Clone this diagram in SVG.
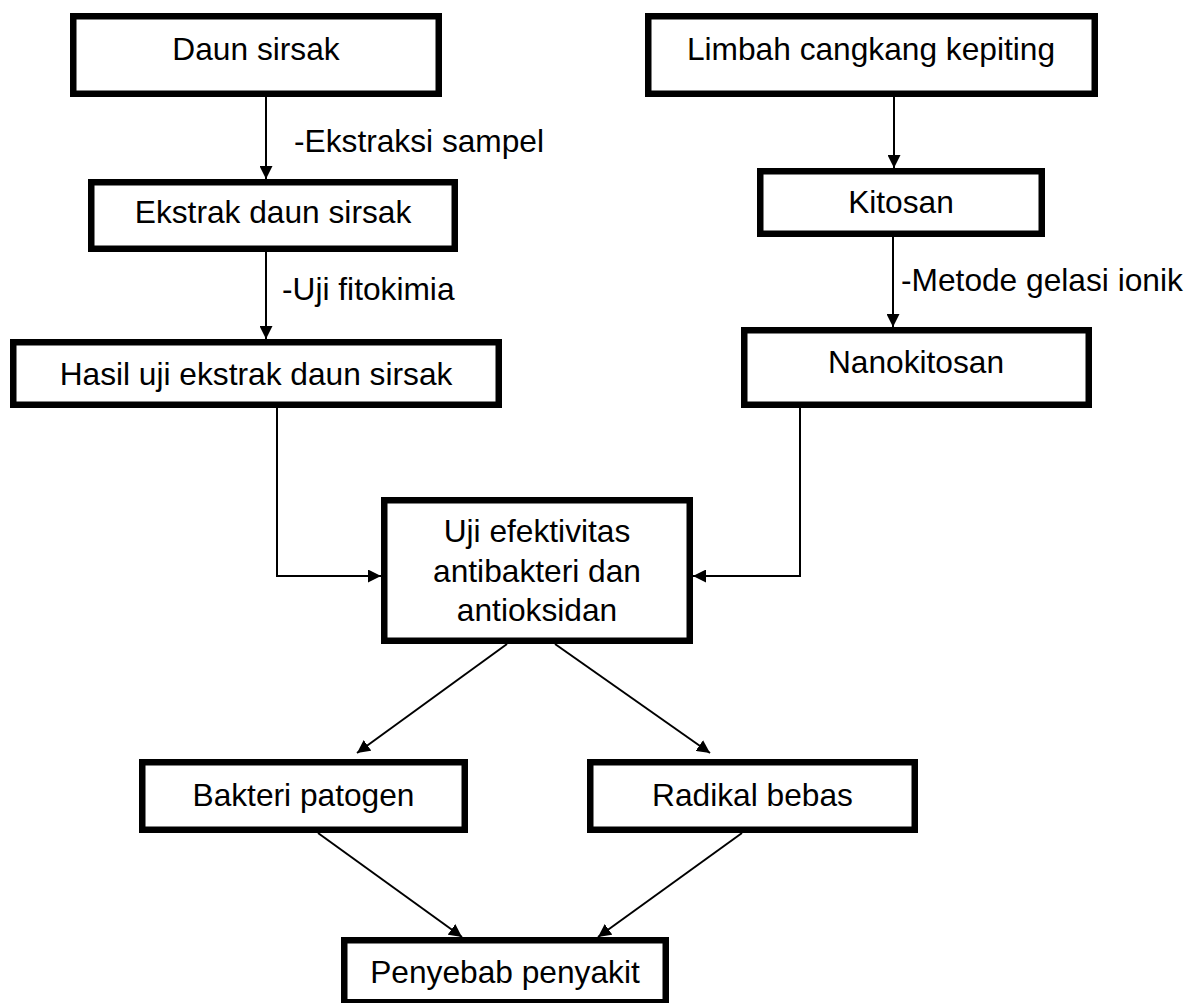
<svg xmlns="http://www.w3.org/2000/svg" width="1204" height="1003" viewBox="0 0 1204 1003">
  <style>
    .box { fill: #ffffff; stroke: #000000; stroke-width: 6.5; }
    .t { font-family: "Liberation Sans", Arial, sans-serif; font-size: 31.7px; fill: #000000; }
    .c { text-anchor: middle; }
    .conn { fill: none; stroke: #000000; stroke-width: 2; }
  </style>
  <defs>
    <marker id="arrow" markerUnits="userSpaceOnUse" markerWidth="13" markerHeight="13" viewBox="0 0 13 13" refX="13" refY="6.5" orient="auto">
      <path d="M0,0 L13,6.5 L0,13 z" fill="#000000"/>
    </marker>
  </defs>
  <rect x="0" y="0" width="1204" height="1003" fill="#ffffff"/>

  <g id="connectors">
    <path class="conn" d="M266,97 V179" marker-end="url(#arrow)"/>
    <path class="conn" d="M266,252 V339" marker-end="url(#arrow)"/>
    <path class="conn" d="M894,97 V168" marker-end="url(#arrow)"/>
    <path class="conn" d="M893,237 V327" marker-end="url(#arrow)"/>
    <path class="conn" d="M277,408 V576 H381" marker-end="url(#arrow)"/>
    <path class="conn" d="M800,408 V576 H693" marker-end="url(#arrow)"/>
    <path class="conn" d="M507,644 L357,753" marker-end="url(#arrow)"/>
    <path class="conn" d="M555,644 L710,753" marker-end="url(#arrow)"/>
    <path class="conn" d="M318,833 L462,937" marker-end="url(#arrow)"/>
    <path class="conn" d="M742,833 L598,937" marker-end="url(#arrow)"/>
    <text class="t" x="294" y="152">-Ekstraksi sampel</text>
    <text class="t" x="282" y="300">-Uji fitokimia</text>
    <text class="t" x="901" y="291">-Metode gelasi ionik</text>
  </g>

  <g id="daun-sirsak">
    <rect class="box" x="73.25" y="16.25" width="365.5" height="77.5"/>
    <text class="t c" x="256" y="60">Daun sirsak</text>
  </g>
  <g id="limbah">
    <rect class="box" x="648.25" y="16.25" width="446.5" height="77.5"/>
    <text class="t c" x="871" y="60">Limbah cangkang kepiting</text>
  </g>
  <g id="ekstrak">
    <rect class="box" x="91.25" y="182.25" width="363.5" height="66.5"/>
    <text class="t c" x="273" y="223">Ekstrak daun sirsak</text>
  </g>
  <g id="kitosan">
    <rect class="box" x="760.25" y="171.25" width="281.5" height="62.5"/>
    <text class="t c" x="901" y="213">Kitosan</text>
  </g>
  <g id="hasil">
    <rect class="box" x="13.25" y="342.25" width="485.5" height="62.5"/>
    <text class="t c" x="256" y="385">Hasil uji ekstrak daun sirsak</text>
  </g>
  <g id="nanokitosan">
    <rect class="box" x="744.25" y="330.25" width="344.5" height="74.5"/>
    <text class="t c" x="916" y="373">Nanokitosan</text>
  </g>
  <g id="uji">
    <rect class="box" x="384.25" y="500.25" width="305.5" height="140.5"/>
    <text class="t c" x="537" y="542">Uji efektivitas</text>
    <text class="t c" x="537" y="582">antibakteri dan</text>
    <text class="t c" x="537" y="621">antioksidan</text>
  </g>
  <g id="bakteri">
    <rect class="box" x="142.25" y="762.25" width="322.5" height="67.5"/>
    <text class="t c" x="303.5" y="806">Bakteri patogen</text>
  </g>
  <g id="radikal">
    <rect class="box" x="590.25" y="762.25" width="324.5" height="67.5"/>
    <text class="t c" x="752.5" y="806">Radikal bebas</text>
  </g>
  <g id="penyebab">
    <rect class="box" x="344.25" y="940.25" width="321.5" height="62"/>
    <text class="t c" x="505" y="983">Penyebab penyakit</text>
  </g>
</svg>
